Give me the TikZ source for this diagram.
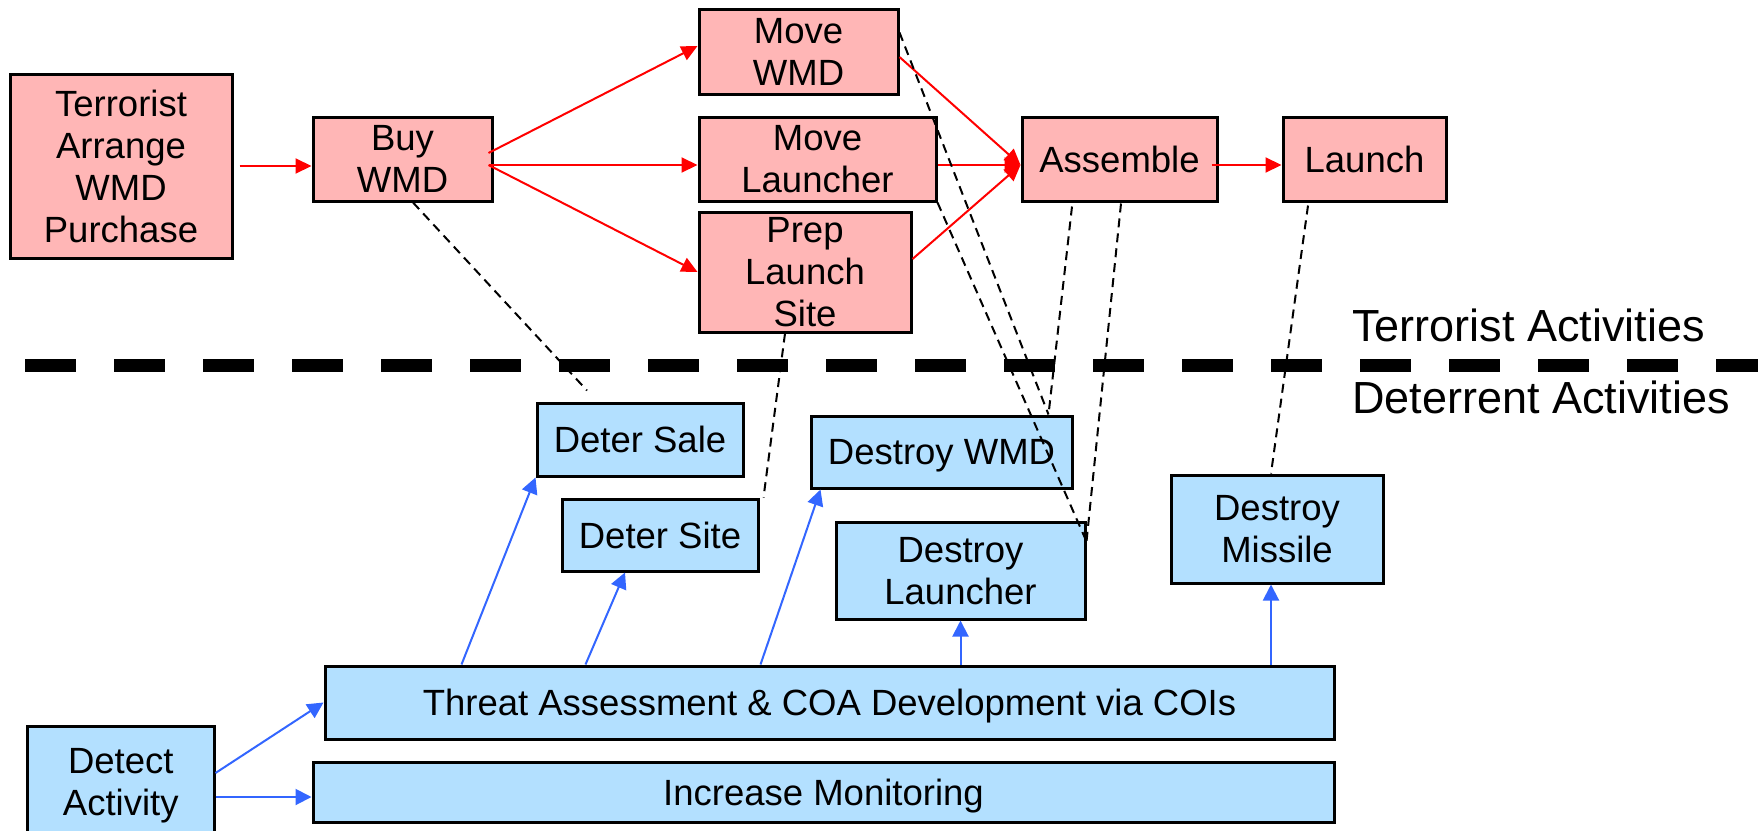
\documentclass[tikz,border=0pt]{standalone}
\usepackage{fontspec}
\setmainfont{Liberation Sans}
\usetikzlibrary{arrows.meta,calc}
\definecolor{pinkfill}{HTML}{FFB6B6}
\definecolor{bluefill}{HTML}{B3E0FF}
\definecolor{bluearrow}{HTML}{3366FF}
\begin{document}
\begin{tikzpicture}[x=1pt,y=-1pt,
  box/.style={draw=black, line width=3pt, inner sep=0pt, align=center, font=\fontsize{36.5}{42}\selectfont, text depth=0pt},
  tbox/.style={box, fill=pinkfill},
  dbox/.style={box, fill=bluefill},
  redarr/.style={draw=red, line width=2pt, -{Triangle[length=16pt,width=15pt]}},
  bluarr/.style={draw=bluearrow, line width=2pt, -{Triangle[length=16pt,width=16pt]}},
  dline/.style={draw=black, line width=2pt, dash pattern=on 9pt off 6pt},
  lbl/.style={anchor=base west, inner sep=0pt, font=\fontsize{45}{50}\selectfont}
]
\useasboundingbox (0,0) rectangle (1758,830);
\clip (0,0) rectangle (1758,830);

% terrorist activities
\node[tbox, minimum width=222pt, minimum height=184pt] (term) at (121,166) {Terrorist\\Arrange\\WMD\\Purchase};
\node[tbox, minimum width=179pt, minimum height=84pt] (buy) at (402.5,159) {Buy\\WMD};
\node[tbox, minimum width=199pt, minimum height=85pt] (mwmd) at (798.5,51.5) {Move\\WMD};
\node[tbox, minimum width=237pt, minimum height=84pt] (mlau) at (817.5,159) {Move\\Launcher};
\node[tbox, minimum width=212pt, minimum height=120pt] (prep) at (805,272) {Prep\\Launch\\Site};
\node[tbox, minimum width=195pt, minimum height=84pt] (asm) at (1119.5,159) {Assemble};
\node[tbox, minimum width=163pt, minimum height=84pt] (lau) at (1364.5,159) {Launch};

% divider and labels
\draw[line width=12.5pt, dash pattern=on 50.5pt off 38.5pt] (25,365.5) -- (1758,365.5);
\node[lbl] (tact) at (1352,341) {Terrorist Activities};
\node[lbl] (dact) at (1352,413) {Deterrent Activities};

% deterrent activities
\node[dbox, minimum width=206pt, minimum height=73pt] (dsale) at (640,439.5) {Deter Sale};
\node[dbox, minimum width=196pt, minimum height=72pt] (dsite) at (660,535) {Deter Site};
\node[dbox, minimum width=261pt, minimum height=72pt] (dwmd) at (941.5,452) {Destroy WMD};
\node[dbox, minimum width=249pt, minimum height=97pt] (dlau) at (960.5,570.5) {Destroy\\Launcher};
\node[dbox, minimum width=212pt, minimum height=108pt] (dmis) at (1277,529) {Destroy\\Missile};
\node[dbox, minimum width=1009pt, minimum height=73pt] (threat) at (829.5,702.5) {Threat Assessment \& COA Development via COIs};
\node[dbox, minimum width=1021pt, minimum height=60pt] (incr) at (823.5,792) {Increase Monitoring};
\node[dbox, minimum width=186.5pt, minimum height=112pt] (detect) at (120.75,782) {Detect\\Activity};

% red arrows
\draw[redarr] ($(term.east)+(6,0)$) -- (term.east -| buy.west);
\draw[redarr] ($(buy.east)+(-5,-6)$) -- ($(mwmd.west)+(0,-5.5)$);
\draw[redarr] ($(buy.east)+(-5,6)$) -- ($(mlau.west)+(0,6)$);
\draw[redarr] ($(buy.east)+(-5,6)$) -- (prep.west);
\draw[redarr] ($(mwmd.east)+(0,5.5)$) -- ($(asm.west)+(0,6)$);
\draw[redarr] ($(mlau.east)+(0,6)$) -- ($(asm.west)+(0,6)$);
\draw[redarr] ($(prep.east)+(0,-13)$) -- ($(asm.west)+(0,6)$);
\draw[redarr] ($(asm.east)+(-7,6)$) -- ($(lau.west)+(0,6)$);

% blue arrows
\draw[bluarr] ($(threat.north west)+(138,0)$) -- (dsale.south west);
\draw[bluarr] ($(threat.north west)+(262,0)$) -- ($(dsite.south)+(-35,0)$);
\draw[bluarr] ($(threat.north west)+(437,0)$) -- ($(dwmd.south west)+(11,0)$);
\draw[bluarr] (dlau.south |- threat.north) -- (dlau.south);
\draw[bluarr] ($(dmis.south |- threat.north)+(-6,0)$) -- ($(dmis.south)+(-6,0)$);
\draw[bluarr] ($(detect.east)+(0,-9)$) -- (threat.west);
\draw[bluarr] ($(detect.east)+(0,15)$) -- ($(detect.east -| incr.west)+(0,15)$);

% dashed relations
\draw[dline] ($(buy.south)+(10.5,0)$) -- ($(dsale.north)+(-53,-11)$);
\draw[dline] ($(prep.south)+(-20,0)$) -- ($(dsite.north east)+(4,0)$);
\draw[dline] ($(mwmd.north east)+(0,25)$) -- ($(dwmd.north east)+(-25,0)$);
\draw[dline] (mlau.south east) -- ($(dlau.north east)+(0,21)$);
\draw[dline] ($(asm.south)+(-47.5,4)$) -- ($(dwmd.north east)+(-25,0)$);
\draw[dline] ($(asm.south)+(1.5,1)$) -- ($(dlau.north east)+(0,21)$);
\draw[dline] ($(lau.south)+(-56.5,3)$) -- ($(dmis.north)+(-6,0)$);
\end{tikzpicture}
\end{document}
